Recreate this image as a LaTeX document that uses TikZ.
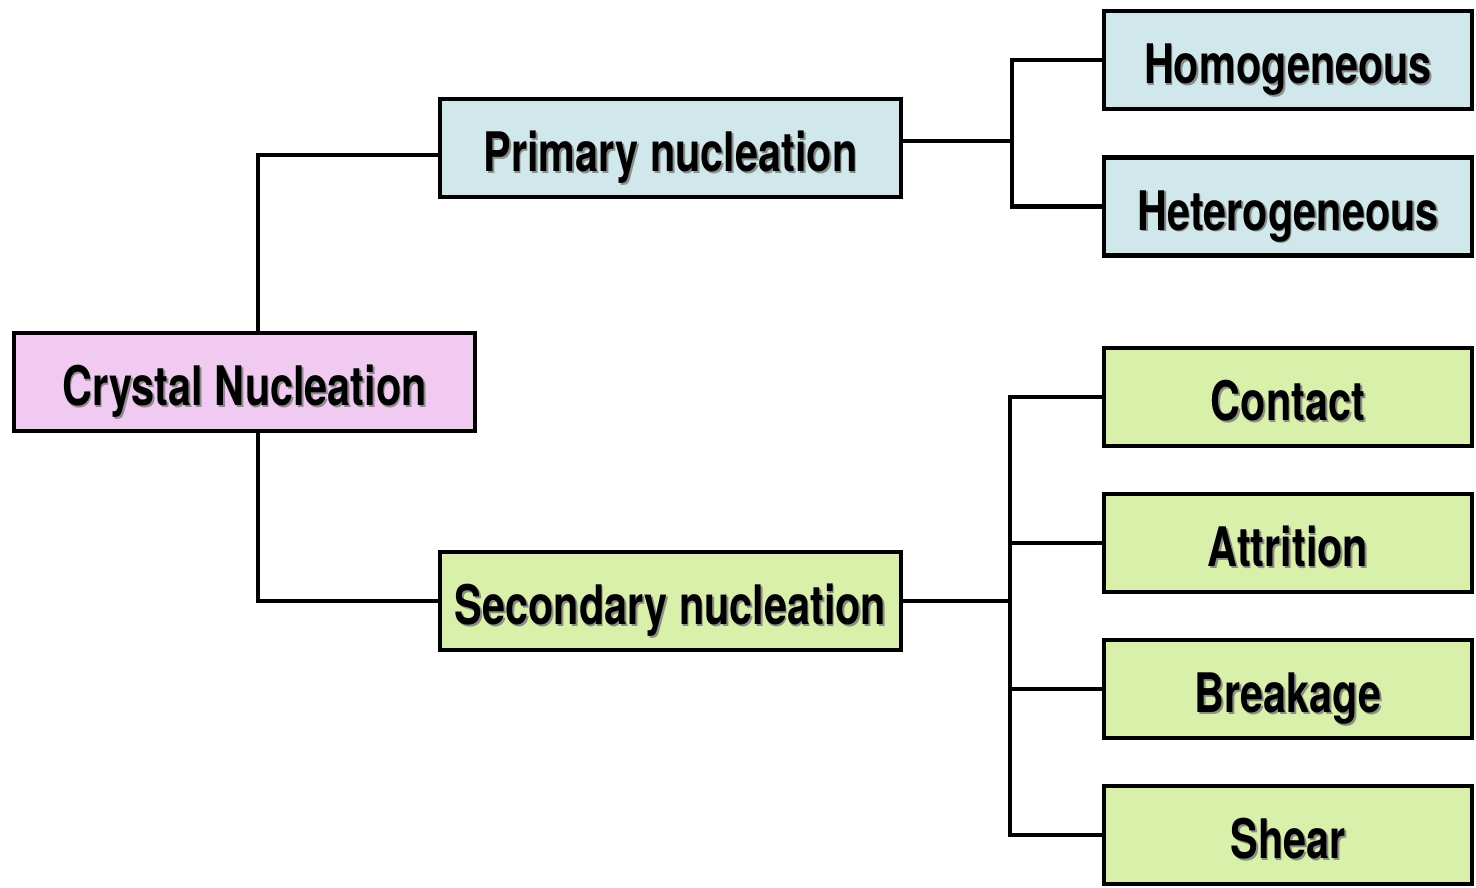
\documentclass[tikz,border=0pt]{standalone}
\usepackage{fontspec}
\setmainfont[FakeStretch=0.76]{TeX Gyre Heros}
\usepackage{xcolor}
\usepackage{tikz}
\usetikzlibrary{positioning}
\definecolor{rootpink}{RGB}{240,202,240}
\definecolor{primblue}{RGB}{208,231,236}
\definecolor{secgreen}{RGB}{217,240,170}
\newcommand{\shtext}[1]{\makebox[0pt][l]{\raisebox{-1pt}{\hspace{1pt}\textcolor{black!45}{#1}}}#1}

\begin{document}
\begin{tikzpicture}[line width=2.4pt,
  box/.style={rectangle,draw,line width=2.4pt,inner sep=0pt,
    text height=27pt,text depth=0pt,
    minimum height=1.96cm,font=\fontsize{31}{36}\selectfont\bfseries},
  main node/.style={box,minimum width=9.22cm},
  leaf node/.style={box,minimum width=7.36cm}]
          \useasboundingbox (0,0) rectangle (29.52,-17.74);
          \node[main node,fill=rootpink] at (4.89,-7.64) (crys) {\shtext{Crystal Nucleation}};
          \node[main node,fill=primblue] at (13.41,-2.96) (prim) {\shtext{Primary nucleation}};
          \node[main node,fill=secgreen] at (13.41,-12.02) (sec) {\shtext{Secondary nucleation}};
          \node[leaf node,fill=primblue] at (25.76,-1.20) (homo) {\shtext{Homogeneous}};
          \node[leaf node,fill=primblue] at (25.76,-4.13) (hete) {\shtext{Heterogeneous}};
          \node[leaf node,fill=secgreen] at (25.76,-7.94) (cont) {\shtext{Contact}};
          \node[leaf node,fill=secgreen] at (25.76,-10.86) (attr) {\shtext{Attrition}};
          \node[leaf node,fill=secgreen] at (25.76,-13.78) (brea) {\shtext{Breakage}};
          \node[leaf node,fill=secgreen] at (25.76,-16.70) (shea) {\shtext{Shear}};
          \coordinate (lbus) at (5.16,0);
          \coordinate (pbus) at (20.24,0);
          \coordinate (sbus) at (20.20,0);
          \draw ([yshift=-0.14cm]prim.west) -| (lbus |- crys.north);
          \draw (sec.west) -| (lbus |- crys.south);
          \draw ([yshift=0.14cm]prim.east) -- ([yshift=0.14cm]prim.east -| pbus);
          \draw (homo.west) -| (pbus |- hete.west) -- (hete.west);
          \draw (sec.east) -- (sec.east -| sbus);
          \draw (cont.west) -| (sbus |- shea.west) -- (shea.west);
          \draw (attr.west) -- (attr.west -| sbus);
          \draw (brea.west) -- (brea.west -| sbus);
        \end{tikzpicture}
\end{document}
